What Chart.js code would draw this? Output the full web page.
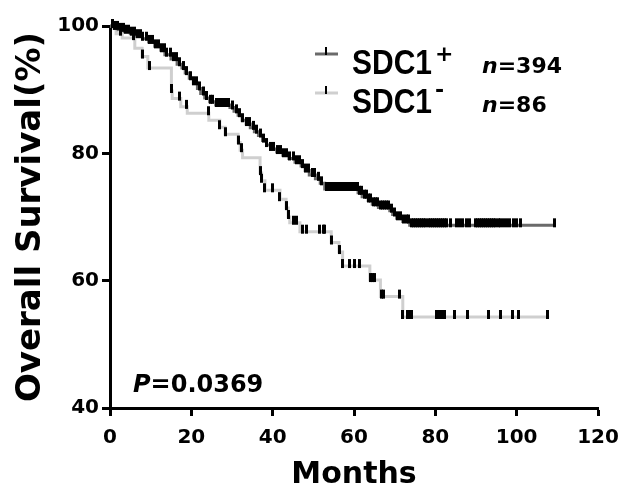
<!DOCTYPE html>
<html>
<head>
<meta charset="utf-8">
<script src="https://cdn.jsdelivr.net/npm/chart.js@4.4.0/dist/chart.umd.min.js"></script>
<style>
  html, body { margin: 0; padding: 0; background: #fff; }
  #wrap { width: 624px; height: 496px; }
</style>
</head>
<body>
<div id="wrap"><canvas id="km" width="624" height="496"></canvas></div>
<script>
// SDC1+ (n=394) survival steps, months / percent
const posTime = [0, 1, 2, 3.5, 5, 6.5, 8, 9.5, 11, 12.5, 13.5, 15, 16.5, 17.7, 18.5, 19.5, 20.5, 21.5, 22.3, 23.3, 24.5, 26,
  29.5, 30.5, 31.5, 32.5, 33.5, 34.5, 35.5, 36.5, 37.5, 38.5, 39.5, 41, 42.5, 44, 45.5, 47, 48, 49, 50.5, 51.7, 52.8,
  61, 62, 63.5, 64.5, 66, 68.8, 69.5, 70.5, 72, 73.7, 109.3];
const posSurv = [100, 99.7, 99.4, 99.1, 98.8, 98.4, 98.0, 97.5, 96.8, 96.2, 95.5, 94.8, 94.0, 93.4, 92.6, 91.8, 91.0, 90.2, 89.4, 88.7, 88.1, 87.6,
  87.2, 86.6, 86.0, 85.2, 84.6, 84.0, 83.4, 82.8, 82.0, 81.3, 80.7, 80.2, 79.7, 79.2, 78.6, 78.0, 77.3, 76.6, 76.0, 75.3, 74.4,
  73.8, 73.2, 72.6, 72.0, 71.5, 71.0, 70.4, 69.8, 69.3, 68.7, 68.7];
const posCensor = [0.6, 1.2, 1.9, 2.6, 3.2, 3.9, 4.5, 5.3, 6.0, 6.8, 7.4, 8.1, 8.9, 9.6, 10.4, 11.1, 11.9, 12.6, 13.4, 14.0,
  14.9, 15.7, 16.4, 17.2, 18.1, 18.9, 19.8, 20.6, 21.3, 22.1, 23.0, 23.8, 24.6, 25.3, 26.1, 26.9, 27.7, 28.4, 29.2, 30.1,
  31.0, 31.8, 32.7, 33.6, 34.3, 35.2, 36.0, 36.9, 37.8, 38.6, 39.5, 40.3, 41.1, 41.9, 42.6, 43.4, 44.2, 45.0, 45.8, 46.5,
  47.3, 48.1, 48.9, 49.7, 50.4, 51.2, 52.0, 53.2, 53.6, 54.0, 54.4, 54.8, 55.2, 55.6, 56.0, 56.5, 57.0, 57.4, 57.8, 58.2,
  58.6, 59.0, 59.5, 60.0, 60.4, 60.8, 61.4, 61.9, 62.5, 63.0, 63.6, 64.1, 64.8, 65.3, 65.9, 66.4, 67.0, 67.5, 68.0, 68.5,
  69.2, 69.9, 70.7, 71.4, 72.2, 72.9, 73.5, 74.2, 74.7, 75.2, 75.7, 76.2, 76.7, 77.2, 77.7, 78.2, 78.7, 79.2, 79.7, 80.2,
  80.7, 81.2, 81.7, 82.2, 82.7, 83.8, 85.2, 86.0, 86.8, 87.6, 88.4, 89.9, 90.4, 90.9, 91.4, 91.9, 92.4, 92.9, 93.4, 93.9,
  94.4, 94.9, 95.5, 96.1, 96.8, 97.5, 98.3, 99.1, 100.0, 101.0, 109.3];

// SDC1- (n=86)
const negTime = [0, 1.5, 3, 6.1, 7.9, 9.3, 15.1, 15.3, 17.4, 19, 24.3, 27, 28.3, 31.5, 32, 32.6, 36.9, 37.3, 38.1, 41.8,
  43.3, 43.8, 44.2, 46.7, 54.4, 56.3, 57.2, 63.9, 66.5, 72, 108];
const negSurv = [100, 98.8, 98.1, 96.5, 95.2, 93.4, 89.8, 88.6, 87.3, 86.3, 85.2, 84.1, 83.0, 81.7, 80.5, 79.3, 76.9, 75.7, 74.2, 72.8,
  71.4, 70.0, 69.1, 67.7, 66.0, 64.5, 62.3, 60.1, 57.5, 54.3, 54.3];
const negCensor = [2.7, 5.7, 8.1, 9.8, 15.2, 17.2, 18.9, 24.1, 27, 28.5, 31.5, 32.4, 36.9, 37.3, 38.1, 40, 41.8, 43.4, 43.8,
  45, 45.9, 47.4, 48.4, 51.6, 52.4, 52.8, 54.5, 56.5, 57.2, 59, 60.2, 61.4, 64, 64.6, 65.1, 66.8, 67.2, 71.3, 72, 73.2,
  73.7, 74.2, 80.3, 80.9, 81.5, 82.3, 84.8, 88, 93, 96, 99, 100.5, 107.5];

const xTicks = [0, 20, 40, 60, 80, 100, 120];
const yTicks = [40, 60, 80, 100];

const FONT = "'DejaVu Sans', sans-serif";
const LFONT = "'Liberation Sans', Arial, sans-serif";

function survAt(times, surv, t) {
  let v = surv[0];
  for (let i = 0; i < times.length; i++) { if (times[i] <= t) v = surv[i]; }
  return v;
}
function curve(times, surv) { return times.map((t, i) => ({ x: t, y: surv[i] })); }
function marks(times, surv, cens) { return cens.map(t => ({ x: t, y: survAt(times, surv, t) })); }

// censor tick: short vertical bar sitting on top of the line
function tickImg() {
  const c = document.createElement('canvas');
  c.width = 3; c.height = 16;
  const g = c.getContext('2d');
  g.fillStyle = '#000';
  g.fillRect(0, 1, 3, 9);
  return c;
}
const tick = tickImg();

const textPlugin = {
  id: 'kmText',
  afterDraw(chart) {
    const ctx = chart.ctx;
    ctx.save();
    const rows = [
      { y: 54, col: '#6a6a6a', sup: '+', n: '394', base: 74, supBase: 61 },
      { y: 93, col: '#cfcfcf', sup: '-', n: '86', base: 113, supBase: 97 }
    ];
    rows.forEach(r => {
      ctx.strokeStyle = r.col; ctx.lineWidth = 3;
      ctx.beginPath(); ctx.moveTo(315, r.y); ctx.lineTo(338, r.y); ctx.stroke();
      ctx.fillStyle = '#000'; ctx.fillRect(325, r.y - 7, 2, 8);
      ctx.textBaseline = 'alphabetic'; ctx.textAlign = 'left';
      // taller, narrower face for the group names
      ctx.save();
      ctx.translate(352, r.base);
      ctx.scale(1, 1.15);
      ctx.font = 'bold 30px ' + LFONT;
      ctx.fillText('SDC1', 0, 0);
      const w = ctx.measureText('SDC1').width;
      ctx.restore();
      ctx.font = 'bold 22px ' + FONT;
      ctx.fillText(r.sup, 352 + w + 3, r.supBase);
      ctx.font = 'italic bold 22px ' + FONT;
      ctx.fillText('n', 482, r.base - 1);
      const nw = ctx.measureText('n').width;
      ctx.font = 'bold 22px ' + FONT;
      ctx.fillText('=' + r.n, 482 + nw, r.base - 1);
    });
    ctx.font = 'italic bold 24px ' + FONT;
    ctx.fillText('P', 133, 392);
    const pw = ctx.measureText('P').width;
    ctx.font = 'bold 24px ' + FONT;
    ctx.fillText('=0.0369', 133 + pw, 392);
    ctx.restore();
  }
};

new Chart(document.getElementById('km'), {
  type: 'line',
  data: {
    datasets: [
      { data: curve(negTime, negSurv), borderColor: '#cfcfcf', borderWidth: 3, stepped: 'before', pointRadius: 0, clip: 4, order: 4 },
      { data: curve(posTime, posSurv), borderColor: '#6a6a6a', borderWidth: 3, stepped: 'before', pointRadius: 0, clip: 4, order: 3 },
      { type: 'scatter', data: marks(negTime, negSurv, negCensor), pointStyle: tick, pointRadius: 4, clip: 10, order: 2 },
      { type: 'scatter', data: marks(posTime, posSurv, posCensor), pointStyle: tick, pointRadius: 4, clip: 10, order: 1 }
    ]
  },
  options: {
    responsive: false,
    animation: false,
    events: [],
    layout: { padding: { top: 26, right: 26, left: 0, bottom: 0 } },
    plugins: { legend: { display: false }, tooltip: { enabled: false } },
    scales: {
      x: {
        type: 'linear', min: 0, max: 120,
        afterBuildTicks: s => { s.ticks = xTicks.map(v => ({ value: v })); },
        afterFit: s => { s.height = 88; s.paddingLeft = 0; s.paddingRight = 0; },
        border: { display: true, width: 3, color: '#000' },
        grid: { display: true, drawOnChartArea: false, drawTicks: true, tickLength: 8, tickWidth: 3, tickColor: '#000' },
        ticks: { color: '#000', padding: 10, maxRotation: 0, font: { family: FONT, weight: 'bold', size: 20 } },
        title: { display: true, text: 'Months', color: '#000', padding: { top: 0, bottom: 3 }, font: { family: FONT, weight: 'bold', size: 30 } }
      },
      y: {
        type: 'linear', min: 40, max: 100,
        afterBuildTicks: s => { s.ticks = yTicks.map(v => ({ value: v })); },
        afterFit: s => { s.width = 110; s.paddingTop = 0; s.paddingBottom = 0; },
        border: { display: true, width: 3, color: '#000' },
        grid: { display: true, drawOnChartArea: false, drawTicks: true, tickLength: 8, tickWidth: 3, tickColor: '#000' },
        ticks: { color: '#000', padding: 3, font: { family: FONT, weight: 'bold', size: 20 } },
        title: { display: true, text: 'Overall Survival(%)', color: '#000', padding: { top: 11, bottom: 0 }, font: { family: FONT, weight: 'bold', size: 34 } }
      }
    }
  },
  plugins: [textPlugin]
});
</script>
</body>
</html>
